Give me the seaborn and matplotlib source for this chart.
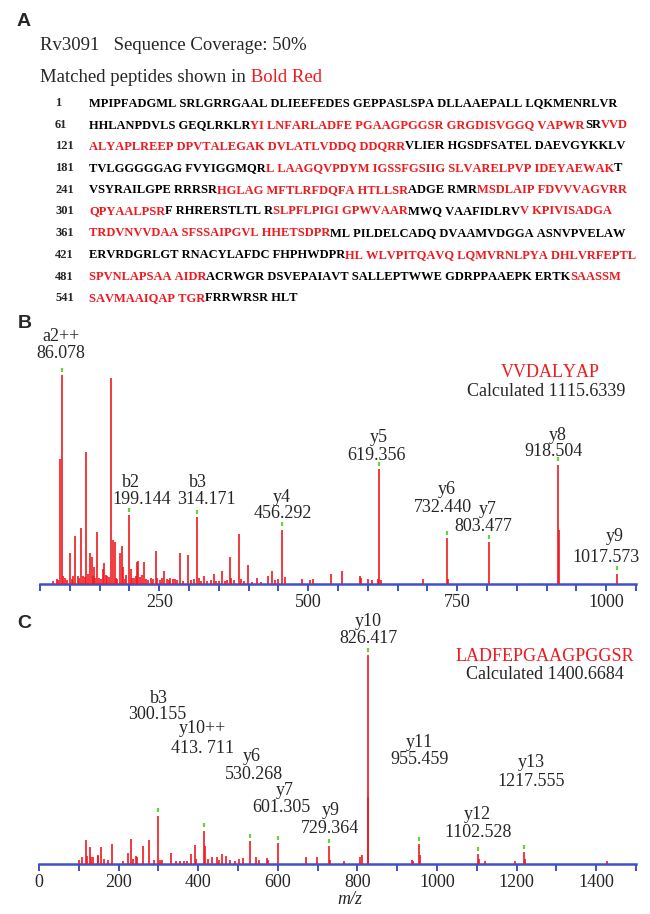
import numpy as np
import seaborn as sns
import matplotlib.pyplot as plt
import matplotlib.ticker as ticker

# ---------------- panel A data ----------------
protein = 'Rv3091'
coverage = 50
sequence = ('MPIPFADGMLSRLGRRGAALDLIEEFEDESGEPPASLSPADLLAAEPALLLQKMENRLVR'
            'HHLANPDVLSGEQLRKLRYILNFARLADFEPGAAGPGGSRGRGDISVGGQVAPWRSRVVD'
            'ALYAPLREEPDPVTALEGAKDVLATLVDDQDDQRRVLIERHGSDFSATELDAEVGYKKLV'
            'TVLGGGGGAGFVYIGGMQRLLAAGQVPDYMIGSSFGSIIGSLVARELPVPIDEYAEWAKT'
            'VSYRAILGPERRRSRHGLAGMFTLRFDQFAHTLLSRADGERMRMSDLAIPFDVVVAGVRR'
            'QPYAALPSRFRHRERSTLTLRSLPFLPIGIGPWVAARMWQVAAFIDLRVVKPIVISADGA'
            'TRDVNVVDAASFSSAIPGVLHHETSDPRMLPILDELCADQDVAAMVDGGAASNVPVELAW'
            'ERVRDGRLGTRNACYLAFDCFHPHWDPRHLWLVPITQAVQLQMVRNLPYADHLVRFEPTL'
            'SPVNLAPSAAAIDRACRWGRDSVEPAIAVTSALLEPTWWEGDRPPAAEPKERTKSAASSM'
            'SAVMAAIQAPTGRFRRWRSRHLT')
# matched peptide ranges (1-based, inclusive)
matched = [(79, 115), (118, 155), (200, 239), (256, 276), (284, 309),
           (322, 337), (350, 388), (449, 494), (535, 553)]

# ---------------- panel B data (VVDALYAP) ----------------
b_peptide = 'VVDALYAP'
b_calc = '1115.6339'
b_mz = [72, 78, 80, 84, 86.078, 88, 92, 96, 100, 104, 106, 109, 113, 115, 118, 122, 125,
        128, 131, 134, 137, 139, 141, 143, 146, 149, 152, 155, 157.5, 160, 163, 166, 169.5,
        173, 175, 178, 180, 184, 187, 189, 192, 195, 199.144, 202, 205, 208, 211, 213.5,
        215, 218, 221, 225, 228, 232, 236, 240, 244, 247, 252, 255, 258, 263, 266, 268,
        273, 277, 280, 285, 290, 299, 303, 308, 314.171, 316, 320, 325, 330, 337, 342,
        346, 351, 356, 360, 363, 369, 371, 375, 384, 387, 392, 399, 405, 414, 420, 432,
        439, 445, 450, 456.292, 461, 489, 503, 508, 539, 557, 587, 589, 600, 607, 617,
        619.356, 622, 692, 732.440, 735, 803.477, 918.504, 920, 1017.573]
b_int = [1.5, 2.4, 2, 60, 100, 3.8, 3, 2, 15, 2.5, 4, 23, 4, 3, 27, 4, 3.5,
         63, 5, 15, 13, 4, 8, 3, 25, 3, 2.5, 7, 10, 4.5, 4, 3.5, 98.5,
         21, 20, 3, 2.4, 15, 18, 8, 2.5, 4.5, 33, 7, 3, 3, 4, 10.5,
         11, 3.5, 4.5, 10.5, 2.4, 2, 3, 2.5, 16, 3, 2, 3, 6, 2.5, 2, 3,
         2.5, 2.5, 2, 15, 1.5, 14, 2, 2.4, 32, 3, 1.5, 4, 1.5, 2, 5,
         1.5, 1.5, 6, 1.5, 2, 13, 3, 2, 24, 2.5, 1.5, 9, 1, 3, 1, 4,
         6, 2, 2.5, 26, 3.3, 2.4, 1.7, 2.4, 5, 6, 3.6, 3, 2.4, 1.7, 2.4,
         55, 2, 2.4, 22, 2.4, 20, 57, 26, 5]
b_ions = ['a2++', 'b2', 'b3', 'y4', 'y5', 'y6', 'y7', 'y8', 'y9']
b_ion_mz = [86.078, 199.144, 314.171, 456.292, 619.356, 732.440, 803.477, 918.504, 1017.573]
b_ion_text = ['86.078', '199.144', '314.171', '456.292', '619.356', '732.440', '803.477',
              '918.504', '1017.573']
b_ion_int = [100, 33, 32, 26, 55, 22, 20, 57, 5]

# ---------------- panel C data (LADFEPGAAGPGGSR) ----------------
c_peptide = 'LADFEPGAAGPGGSR'
c_calc = '1400.6684'
c_mz = [100, 109, 117, 120, 127, 131, 135, 147, 149, 156, 163, 173, 183, 211, 223, 232,
        236, 243, 246, 261, 276, 288, 300.155, 303, 310, 332, 345, 355, 365, 373, 382,
        391, 395, 413.711, 416, 425, 435, 446, 452, 461, 469, 481, 493, 503, 513,
        530.268, 546, 554, 573, 576, 601.305, 670, 699, 729.364, 732, 766, 807, 811,
        826.417, 827.5, 937, 940, 955.459, 957, 1102.528, 1105, 1121, 1197, 1217.555,
        1220, 1428]
c_int = [2, 3.3, 11.5, 4, 8, 3.3, 3.3, 4, 4.3, 8, 2.4, 2, 9.6, 1.4, 5.3, 12,
         2.4, 4, 3.3, 8.6, 11.5, 2, 23, 2, 2, 5.3, 1.4, 1.4, 1.4, 1.4, 4.8,
         9, 2.4, 16, 8.6, 2.4, 3.3, 3.3, 2, 4.8, 4, 2, 1.4, 2.4, 3,
         11, 3.3, 2, 3, 2, 10, 3.3, 3.3, 8.6, 2, 1.4, 3.3, 4.3,
         100, 32, 2, 1.4, 9.6, 4.3, 4.8, 2.4, 1.4, 1.4, 5.7,
         2.4, 1.4]
c_ions = ['b3', 'y10++', 'y6', 'y7', 'y9', 'y10', 'y11', 'y12', 'y13']
c_ion_mz = [300.155, 413.711, 530.268, 601.305, 729.364, 826.417, 955.459, 1102.528, 1217.555]
c_ion_text = ['300.155', '413. 711', '530.268', '601.305', '729.364', '826.417', '955.459',
              '1102.528', '1217.555']
c_ion_int = [23, 16, 11, 10, 8.6, 100, 9.6, 4.8, 5.7]

# ---------------- layout (pixels of a 650x914 figure) ----------------
W, H = 650, 914
PX_PER_PCT = 2.09
RED = '#f0191e'
BLUE = '#3f51c8'
GREEN = '#6ccf3c'
SERIF = ['Liberation Serif', 'DejaVu Serif']
SEQ_SIZE = 9.0

# label placement: (x of ion name, y of ion name, x of value, y of value) in m/z and %
b_label_pos = [(85, 118.2, 85, 110.3), (202, 48.6, 221, 40.6), (315, 48.6, 330, 40.6),
               (456, 41.6, 458, 33.5), (619, 69.9, 615, 61.7), (732, 45, 726, 36.6),
               (802, 35.6, 793, 27.4), (918, 71.2, 912, 63.2), (1015, 22.5, 1000, 12.9)]
c_label_pos = [(302, 79.4, 296, 71.3), (411, 64.6, 412, 55.5), (535, 51.2, 539, 42.6),
               (617, 35, 609, 26.8), (732, 25.8, 730, 17.2), (828, 115.8, 828, 107.8),
               (956, 57.9, 956, 49.8), (1102, 23.9, 1102, 15.3), (1236, 48.8, 1236, 39.7)]


def px_axes(fig, left, top, right, bottom):
    return fig.add_axes([left / W, 1 - bottom / H, (right - left) / W, (bottom - top) / H])


def seq_rows(seq, ranges):
    red = np.zeros(len(seq), bool)
    for a, b in ranges:
        red[a - 1:b] = True
    rows = []
    for start in range(0, len(seq), 60):
        segs = []
        for i in range(start, min(start + 60, len(seq))):
            ch = seq[i]
            if i > start and (i - start) % 10 == 0:
                ch = ' ' + ch
            if segs and segs[-1][1] == red[i]:
                segs[-1][0] += ch
            else:
                segs.append([ch, red[i]])
        rows.append((start + 1, segs))
    return rows


def text_width(ax, renderer, s, **kw):
    t = ax.text(0, 0, s, **kw)
    w = t.get_window_extent(renderer).width
    t.remove()
    return w


def colored_line(ax, renderer, x, y, pieces, **kw):
    # each coloured piece starts where its first letter falls inside the whole line
    full = ''
    for s, c in pieces:
        if full:
            first = s[0]
            xs = x + text_width(ax, renderer, full + first, **kw) \
                - text_width(ax, renderer, first, **kw)
        else:
            xs = x
        ax.text(xs, y, s, color=c, va='center', ha='left', **kw)
        full += s


def spectrum(ax, mz, inten, ions, ion_mz, ion_text, ion_int, label_pos, peptide, calc, pep_pos):
    ax.vlines(mz, 0, inten, color=RED, lw=1.2, zorder=3)
    sns.scatterplot(x=ion_mz, y=np.array(ion_int) + 2.6, marker='|', color=GREEN,
                    s=10, linewidth=1.6, ax=ax, legend=False, zorder=4)
    for name, txt, (nx, ny, vx, vy) in zip(ions, ion_text, label_pos):
        ax.text(nx, ny, name, ha='center', va='center', fontsize=13, family=SERIF)
        ax.text(vx, vy, txt, ha='center', va='center', fontsize=13, family=SERIF)
    px1, py1, px2, py2 = pep_pos
    ax.text(px1, py1, peptide, ha='center', va='center', fontsize=13, color=RED, family=SERIF)
    ax.text(px2, py2, 'Calculated ' + calc, ha='center', va='center', fontsize=13, family=SERIF)
    sns.despine(ax=ax, left=True)
    ax.spines['bottom'].set_color(BLUE)
    ax.spines['bottom'].set_linewidth(1.8)
    ax.set_yticks([])
    ax.tick_params(axis='x', which='both', direction='out', length=5, width=1.4,
                   color=BLUE, labelsize=13, pad=2, bottom=True)
    ax.patch.set_alpha(0)


def main():
    sns.set_theme(style='white')
    plt.rcParams['font.family'] = SERIF
    # no pair kerning, so split pieces line up with the whole-line measure
    plt.rcParams['text.kerning_factor'] = 6
    fig = plt.figure(figsize=(W / 100, H / 100), dpi=100)
    renderer = fig.canvas.get_renderer()

    # overlay for panel A and panel letters, in pixel coordinates
    ax0 = fig.add_axes([0, 0, 1, 1])
    ax0.set_xlim(0, W)
    ax0.set_ylim(H, 0)
    ax0.axis('off')

    for letter, (x, y) in zip('ABC', [(17, 22), (18, 323), (17, 623)]):
        ax0.text(x, y, letter, fontsize=14, fontweight='bold',
                 family=['Liberation Sans', 'DejaVu Sans'], va='center', ha='left')

    ax0.text(40, 45, f'{protein}   Sequence Coverage: {coverage}%', fontsize=13.5, va='center')
    t = ax0.text(40, 78, 'Matched peptides shown in', fontsize=13.5, va='center')
    ax0.annotate(' Bold Red', xy=(1, 0.5), xycoords=t, va='center', ha='left',
                 fontsize=13.5, color=RED)

    for k, (num, segs) in enumerate(seq_rows(sequence, matched)):
        y = 103 + k * 21.7
        ax0.text(55, y, str(num), fontsize=SEQ_SIZE, fontweight='bold', va='center')
        pieces = [(s, RED if r else 'black') for s, r in segs]
        colored_line(ax0, renderer, 89, y, pieces, fontsize=SEQ_SIZE, fontweight='bold')

    # panel B
    axb = px_axes(fig, 40, 320, 636, 584)
    spectrum(axb, b_mz, b_int, b_ions, b_ion_mz, b_ion_text, b_ion_int, b_label_pos,
             b_peptide, b_calc, (906, 101.4, 899, 91.9))
    axb.set_xlim(50, 1050)
    axb.set_ylim(0, (584 - 320) / PX_PER_PCT)
    axb.xaxis.set_major_locator(ticker.FixedLocator([250, 500, 750, 1000]))
    axb.xaxis.set_minor_locator(ticker.MultipleLocator(50))

    # panel C
    axc = px_axes(fig, 39, 605, 636, 864)
    spectrum(axc, c_mz, c_int, c_ions, c_ion_mz, c_ion_text, c_ion_int, c_label_pos,
             c_peptide, c_calc, (1270, 99.5, 1272, 90.9))
    axc.set_xlim(0, 1500)
    axc.set_ylim(0, (864 - 605) / PX_PER_PCT)
    axc.xaxis.set_major_locator(ticker.MultipleLocator(200))
    axc.xaxis.set_minor_locator(ticker.MultipleLocator(100))
    axc.set_xlabel('m/z', fontsize=13, style='italic')
    axc.xaxis.label.set_va('center')
    axc.xaxis.set_label_coords(0.52, -0.138)

    fig.savefig('out.png', dpi=100)


if __name__ == '__main__':
    main()
